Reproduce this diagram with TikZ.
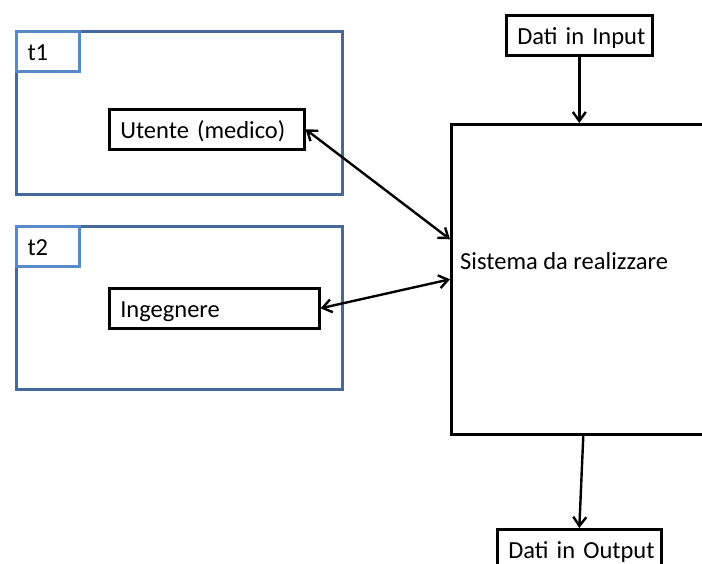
\documentclass[tikz,border=0pt]{standalone}
\usepackage{fontspec}
\setmainfont{Carlito}
\usetikzlibrary{positioning,arrows.meta}
\definecolor{framecol}{RGB}{70,105,155}
\definecolor{tabcol}{RGB}{88,138,200}

\begin{document}
\begin{tikzpicture}[x=1pt,y=-1pt,
  every node/.style={font=\fontsize{24.5}{28}\selectfont},
  box/.style={draw, line width=2.6pt, minimum height=40pt, inner xsep=11pt, inner ysep=0pt,
    text height=20pt, text depth=2pt, anchor=north west, align=left},
  frame/.style={draw=framecol, line width=3pt, anchor=north west,
    minimum width=326pt, minimum height=163pt, inner sep=0pt},
  tab/.style={box, draw=tabcol, line width=3pt, text width=41pt},
  link/.style={line width=2.4pt, {Straight Barb[length=9pt,width=13pt]}-{Straight Barb[length=9pt,width=13pt]}},
  flow/.style={line width=2.4pt, -{Straight Barb[length=9pt,width=13pt]}}]
  \useasboundingbox (0,0) rectangle (702,564);
  \clip (0,0) rectangle (702,564);
  % the two time frames
  \node[frame] (f1) at (15,30) {};
  \node[frame] (f2) at (15,225) {};
  \node[tab] (t1) at (f1.north west) {t1};
  \node[tab] (t2) at (f2.north west) {t2};
  % actors
  \node[box, text width=173pt] (ut) at (108,108) {\mbox{Utente (medico)}};
  \node[box, text width=188pt] (ing) at (108,287) {Ingegnere};
  % system with its input and output
  \node[box, minimum width=320pt, minimum height=310pt] (sys) at (450,123) {};
  \node[anchor=base west, inner sep=0pt] (systxt) at (460,270) {Sistema da realizzare};
  \node[box, text width=124pt] (din) at (505,14) {\mbox{Dati in Input}};
  \node[box, text width=142pt] (dout) at (496,528) {\mbox{Dati in Output}};
  % connectors
  \draw[link] (ut.east) -- ([yshift=40pt]sys.west);
  \draw[link] (ing.east) -- (sys.west);
  \draw[flow] (din.south) -- (din.south |- sys.north);
  \draw[flow] ([xshift=4pt]dout.north |- sys.south) -- (dout.north);
\end{tikzpicture}
\end{document}
